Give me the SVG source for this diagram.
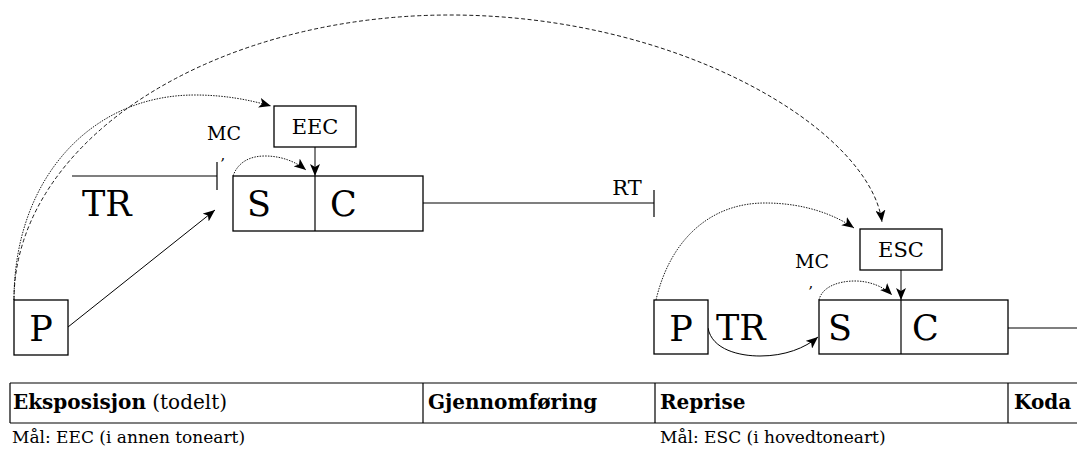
<svg xmlns="http://www.w3.org/2000/svg" width="1077" height="450" viewBox="0 0 1077 450">
<style>
text{font-family:"DejaVu Serif","Liberation Serif",serif;fill:#000}
.box{fill:#fff;stroke:#000;stroke-width:1.3}
.ln{fill:none;stroke:#000;stroke-width:1.2}
.thin{fill:none;stroke:#000;stroke-width:1}
.dash{fill:none;stroke:#000;stroke-width:0.9;stroke-dasharray:4 2.5}
.dot{fill:none;stroke:#000;stroke-width:0.9;stroke-dasharray:1.5 1.2}
.big{font-size:35px}
.mid{font-size:21px}
.mc{font-size:19px}
.cm{font-size:15px}
.hd{font-size:20px}
.sm{font-size:17px}
</style>
<defs>
<marker id="arr" markerUnits="userSpaceOnUse" markerWidth="12" markerHeight="10" viewBox="0 0 12 10" refX="12" refY="5" orient="auto">
<path d="M0,0 L12,5 L0,10 L3,5 z" fill="#000"/>
</marker>
</defs>
<g id="connectors">
<path class="dash" d="M14,300 A436,285 0 0 1 450,15 C680,15 870,130 882,222" marker-end="url(#arr)"/>
<path class="dot" d="M14,300 C14,180 90,95 195,95 C225,95 250,100 271,106" marker-end="url(#arr)"/>
<path class="thin" d="M68,327 L215,210" marker-end="url(#arr)"/>
<path class="dot" d="M233,176 C238,162 250,156 265,156 C282,156 296,162 306,170" marker-end="url(#arr)"/>
<path class="thin" d="M315,147 L315,176" marker-end="url(#arr)"/>
<path class="ln" d="M72,176 L217,176 M217,162 L217,190"/>
<path class="ln" d="M423,203 L654,203 M654,190 L654,217"/>
<path class="dot" d="M656,300 C670,240 710,203 765,203 C805,203 835,215 854,228" marker-end="url(#arr)"/>
<path class="dot" d="M819,300 C822,287 838,281 855,281 C870,281 884,287 892,295" marker-end="url(#arr)"/>
<path class="thin" d="M901,270 L901,300" marker-end="url(#arr)"/>
<path class="thin" d="M708,328 C712,350 740,356 760,356 C785,356 805,348 818,337" marker-end="url(#arr)"/>
<path class="ln" d="M1008,328 L1077,328"/>
</g>
<g id="P1"><rect class="box" x="14" y="300" width="54" height="55"/><text class="big" x="41" y="341" text-anchor="middle">P</text></g>
<g id="TR1"><text class="big" x="82" y="216">TR</text></g>
<g id="MC1"><text class="mc" x="224" y="140" text-anchor="middle">MC</text><text class="cm" x="223" y="160" text-anchor="middle">,</text></g>
<g id="EEC"><rect class="box" x="274" y="106" width="82" height="41"/><text class="mid" x="315" y="134" text-anchor="middle">EEC</text></g>
<g id="SC1"><rect class="box" x="233" y="176" width="190" height="55"/><path class="ln" d="M315,176 L315,231"/><text class="big" x="247" y="216">S</text><text class="big" x="330" y="216">C</text></g>
<g id="RT"><text class="mid" x="627" y="195" text-anchor="middle">RT</text></g>
<g id="P2"><rect class="box" x="654" y="300" width="54" height="54"/><text class="big" x="681" y="341" text-anchor="middle">P</text></g>
<g id="TR2"><text class="big" x="716" y="340">TR</text></g>
<g id="MC2"><text class="mc" x="812" y="268" text-anchor="middle">MC</text><text class="cm" x="811" y="288" text-anchor="middle">,</text></g>
<g id="ESC"><rect class="box" x="860" y="229" width="82" height="41"/><text class="mid" x="901" y="257" text-anchor="middle">ESC</text></g>
<g id="SC2"><rect class="box" x="819" y="300" width="189" height="54"/><path class="ln" d="M901,300 L901,354"/><text class="big" x="828" y="340">S</text><text class="big" x="912" y="340">C</text></g>
<g id="table">
<path class="ln" d="M10,383 L1077,383 M10,423 L1077,423 M10,383 L10,423 M423,383 L423,423 M655,383 L655,423 M1008,383 L1008,423"/>
<text class="hd" x="13" y="409"><tspan font-weight="bold">Eksposisjon</tspan> (todelt)</text>
<text class="hd" x="428" y="409" font-weight="bold">Gjennomføring</text>
<text class="hd" x="660" y="409" font-weight="bold">Reprise</text>
<text class="hd" x="1014" y="409" font-weight="bold">Koda</text>
<text class="sm" x="12" y="443">Mål: EEC (i annen toneart)</text>
<text class="sm" x="660" y="443">Mål: ESC (i hovedtoneart)</text>
</g>
</svg>
